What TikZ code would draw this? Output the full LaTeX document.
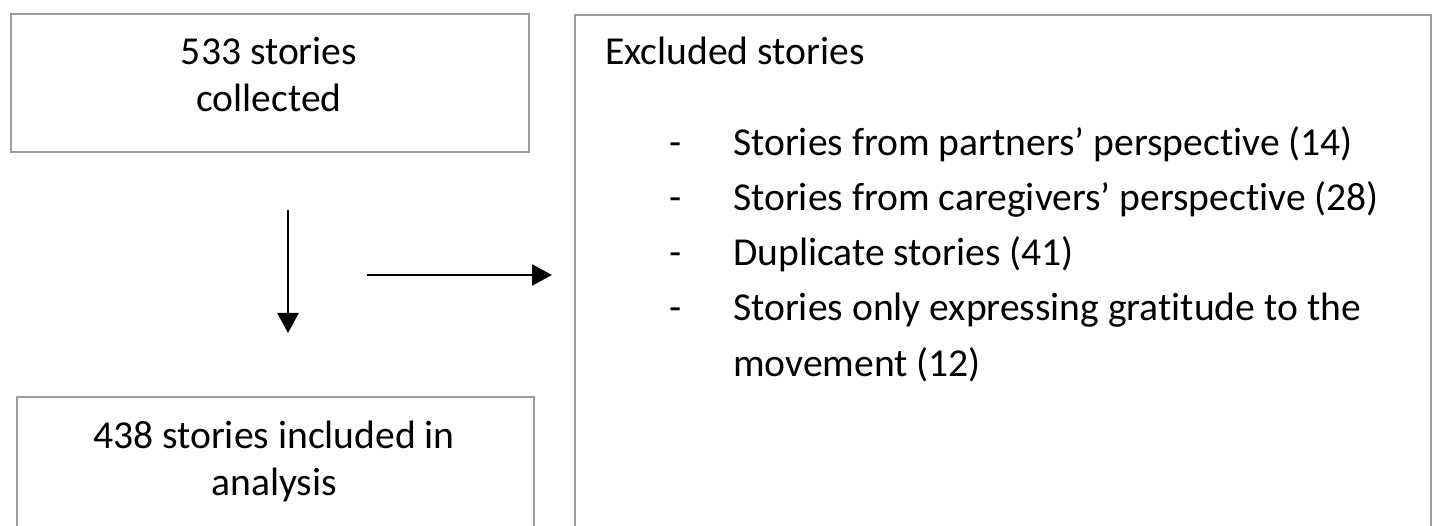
\documentclass[tikz,border=0pt]{standalone}
\usepackage{fontspec}
\setmainfont[Ligatures=NoCommon]{Carlito}
\usetikzlibrary{arrows.meta}
\definecolor{boxgray}{HTML}{9C9C9C}
\tikzset{
  box/.style={draw=boxgray, line width=2pt, rectangle, inner sep=0pt, anchor=north west},
  txt/.style={inner sep=0pt, font=\fontsize{39.6}{48}\selectfont, text=black},
  conn/.style={line width=2.4pt, -{Triangle[length=20pt,width=21pt]}}
}
\begin{document}
\begin{tikzpicture}[x=1pt,y=1pt]
\useasboundingbox (0,0) rectangle (1432,-526);
\clip (0,0) rectangle (1432,-526);
% boxes
\node[box, minimum width=518pt, minimum height=138pt] (collected) at (10,-13) {};
\node[box, minimum width=856pt, minimum height=560pt] (excluded) at (574,-14) {};
\node[box, minimum width=517pt, minimum height=200pt] (included) at (16,-396) {};
% top-left text
\node[txt, anchor=base] (t1) at (269,-65) {533 stories};
\node[txt, anchor=base] (t2) at (269,-112) {collected};
% bottom-left text
\node[txt, anchor=base] (b1) at (274,-448) {438 stories included in};
\node[txt, anchor=base] (b2) at (274,-495) {analysis};
% right box text
\node[txt, anchor=base west] (ex) at (605,-65) {Excluded stories};
\foreach \y/\t [count=\i] in {156/{Stories from partners’ perspective (14)},
  211/{Stories from caregivers’ perspective (28)},
  266/{Duplicate stories (41)},
  321/{Stories only expressing gratitude to the}} {
  \node[txt, anchor=base west] (d\i) at (669,-\y) {-};
  \node[txt, anchor=base west] (l\i) at (733,-\y) {\t};
}
\node[txt, anchor=base west] (l5) at (733,-377) {movement (12)};
% connectors
\coordinate (vs) at (288,-210);
\coordinate (ve) at (288,-333);
\coordinate (hs) at (367,-275);
\coordinate (he) at (552,-275);
\draw[conn] (vs) -- (ve);
\draw[conn] (hs) -- (he);
\end{tikzpicture}
\end{document}
